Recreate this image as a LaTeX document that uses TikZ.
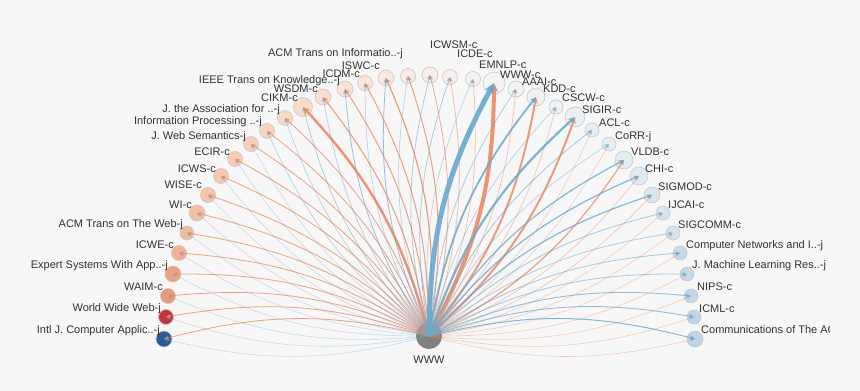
\documentclass[tikz,border=0pt]{standalone}
\usepackage{fontspec}
\setmainfont{Liberation Sans}
\usetikzlibrary{arrows.meta}
\definecolor{paper}{HTML}{F7F7F7}
\definecolor{ink}{HTML}{333333}
\definecolor{rim}{HTML}{C8C8C8}
\definecolor{hub}{HTML}{808080}
\definecolor{citedred}{HTML}{EF8A62}
\definecolor{citingblue}{HTML}{67A9CF}
\tikzset{
  venue/.style={circle,draw=rim,line width=0.6pt,inner sep=0pt,minimum size=2*#1 pt},
  vlabel/.style={inner sep=0pt,text=ink,font=\fontsize{11}{13}\selectfont},
  redlink/.style={-{Stealth[length=4pt 1.3,width=3.5pt 1.3]},citedred,line width=#1},
  bluelink/.style={-{Stealth[length=4pt 1.3,width=3.5pt 1.3]},citingblue,line width=#1},
}
\begin{document}
\begin{tikzpicture}[x=1pt,y=-1pt]
\fill[paper] (0,0) rectangle (860,391);
\useasboundingbox (0,0) rectangle (860,391);
% venues round the arc
\foreach \n/\x/\y/\r/\c in {
  intlj/164/339/8/2B5C95, wwwj/166/317/7.5/C1363F, waim/168/296/7.5/EB9878,
  expert/173/274/8/EEA182, icwe/179/253/7.5/F2B293, acmweb/187/233/7/F4BC9F,
  wi/197/213/8/F5C1A5, wise/208/195/7.5/F6C5AA, icws/221/176/7.5/F7C9AF,
  ecir/235/159/7.5/F8CDB4, jws/251/144/7.5/F8D0B9, ipm/267/131/7.5/F9D4BF,
  jacm/285/118/7.5/F9D7C4, cikm/303/107/9.5/FADBC9, wsdm/323/97/8/FADECE,
  tkde/345/89/8/FAE2D4, icdm/365/83/7.5/FAE5D9, iswc/386/78/8/FAE8DE,
  acmtois/408/76/7.5/F9EBE4, icwsm/430/75/8/F8EDE8, icde/450/77/7.5/F7EFEC,
  emnlp/473/79/7.5/F6F1F0, wwwc/494/83/11/F4F4F4, aaai/516/89/8/F1F3F5,
  kdd/536/97/9/EEF2F5, cscw/556/107/7/ECF1F5, sigir/575/117/10/E9EFF4,
  acl/592/130/7/E7EEF4, corr/609/144/7/E4EDF3, vldb/624/160/9/E1EBF2,
  chi/639/176/9/DEE9F1, sigmod/652/195/8/DBE7F0, ijcai/663/213/7/D8E5EF,
  sigcomm/673/233/7/D4E3EE, compnet/680/253/7/C6DCEB, jmlr/687/274/7/C3DAEA,
  nips/691/296/7/C0D8E9, icml/694/317/7/BED7E8, cacm/695/339/8/BCD5E7} {
  \definecolor{vfill}{HTML}{\c}
  \node[venue=\r,fill=vfill] (\n) at (\x,\y) {};
}
\node[circle,fill=hub,inner sep=0pt,minimum size=26pt] (www) at (429,336) {};
\node[vlabel,anchor=base] (www-t) at (429,363) {WWW};
% labels, left half
\foreach \n/\t/\x/\y in {
  intlj/Intl J. Computer Applic..-j/160/333, wwwj/World Wide Web-j/161/311,
  waim/WAIM-c/163/290, expert/Expert Systems With App..-j/168/268,
  icwe/ICWE-c/174/248, acmweb/ACM Trans on The Web-j/183/227,
  wi/WI-c/192/208, wise/WISE-c/202/188, icws/ICWS-c/216/172,
  ecir/ECIR-c/230/155, jws/J. Web Semantics-j/246/139,
  ipm/Information Processing ..-j/262/124, jacm/J. the Association for ..-j/280/112,
  cikm/CIKM-c/298/101, wsdm/WSDM-c/318/92, tkde/IEEE Trans on Knowledge..-j/340/83,
  icdm/ICDM-c/360/77, iswc/ISWC-c/380/69, acmtois/ACM Trans on Informatio..-j/403/56}
  \node[vlabel,anchor=base east] (\n-t) at (\x,\y) {\t};
% labels, right half
\foreach \n/\t/\x/\y in {
  icwsm/ICWSM-c/430/48, icde/ICDE-c/457/57, emnlp/EMNLP-c/479/68,
  wwwc/WWW-c/500/78, aaai/AAAI-c/522/85, kdd/KDD-c/543/92,
  cscw/CSCW-c/562/101, sigir/SIGIR-c/582/113, acl/ACL-c/599/126,
  corr/CoRR-j/615/139, vldb/VLDB-c/631/155, chi/CHI-c/645/172,
  sigmod/SIGMOD-c/658/190, ijcai/IJCAI-c/668/208, sigcomm/SIGCOMM-c/678/228,
  compnet/Computer Networks and I..-j/686/248, jmlr/J. Machine Learning Res..-j/692/268,
  nips/NIPS-c/697/290, icml/ICML-c/699/312}
  \node[vlabel,anchor=base west] (\n-t) at (\x,\y) {\t};
\begin{scope}
  \clip (0,0) rectangle (829,391);
  \node[vlabel,anchor=base west] (cacm-t) at (701,333) {Communications of The ACM-j};
\end{scope}
% links: red bends right, blue bends left
\foreach \n/\rw/\ro/\bw/\bo in {
  intlj/0.8/0.8/0.6/0.35, wwwj/0.8/0.8/0.6/0.35, waim/0.8/0.8/0.6/0.35,
  expert/0.8/0.8/0.6/0.35, icwe/0.8/0.8/0.6/0.35, acmweb/0.8/0.8/0.6/0.35,
  wi/0.8/0.8/0.6/0.35, wise/0.8/0.8/0.6/0.35, icws/0.8/0.8/0.6/0.35,
  ecir/0.8/0.8/0.6/0.35, jws/0.8/0.8/0.6/0.35, ipm/0.8/0.8/0.6/0.5,
  jacm/0.8/0.8/0.6/0.5, cikm/2.5/0.9/0.7/0.6, wsdm/1/0.85/0.7/0.5,
  tkde/1/0.8/0.8/0.7, icdm/1/0.8/0.6/0.5, iswc/1.2/0.85/0.8/0.7,
  acmtois/1/0.8/0.6/0.5, icwsm/0.8/0.7/0.7/0.6, icde/0.7/0.6/0.7/0.6,
  emnlp/0.7/0.5/0.6/0.5, wwwc/4/0.9/5/0.9, aaai/0.7/0.5/0.7/0.6,
  kdd/2/0.85/1.8/0.85, cscw/0.6/0.5/0.6/0.5, sigir/2/0.85/2.2/0.85,
  acl/0.6/0.4/0.8/0.6, corr/0.6/0.4/0.6/0.5, vldb/1.2/0.8/1.2/0.8,
  chi/0.6/0.5/1.2/0.8, sigmod/0.6/0.5/1.2/0.8, ijcai/0.6/0.4/0.8/0.6,
  sigcomm/0.6/0.4/0.8/0.5, compnet/0.6/0.4/0.8/0.6, jmlr/0.6/0.4/0.8/0.6,
  nips/0.6/0.4/0.9/0.7, icml/0.6/0.4/0.9/0.7, cacm/0.6/0.4/1/0.8} {
  \draw[redlink=\rw pt,draw opacity=\ro,fill opacity=\ro] (www.center) to[bend right=14] (\n.center);
  \draw[bluelink=\bw pt,draw opacity=\bo,fill opacity=\bo] (www.center) to[bend left=14] (\n.center);
}
\end{tikzpicture}
\end{document}
